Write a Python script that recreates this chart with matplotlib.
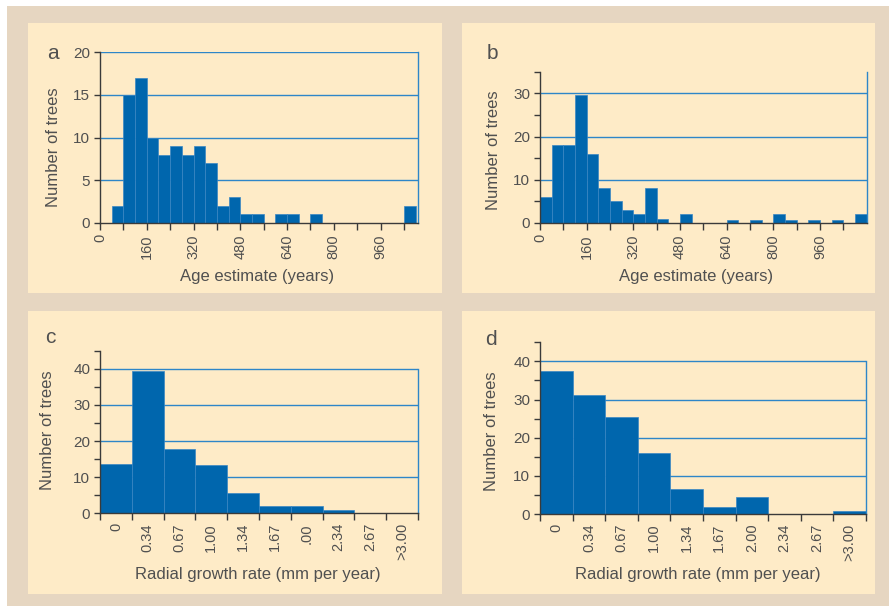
import numpy as np
import matplotlib.pyplot as plt
from matplotlib.patches import Rectangle

plt.rcParams['font.family'] = ['Liberation Sans', 'DejaVu Sans']

# age classes, 40-year bins (left edge, years)
age_bins = np.arange(0, 1120, 40)
age_counts_a = [0, 2, 15, 17, 10, 8, 9, 8, 9, 7, 2, 3, 1, 1, 0, 1, 1, 0, 1,
                0, 0, 0, 0, 0, 0, 0, 2]
age_counts_b = [6, 18, 18, 29.5, 16, 8, 5, 3, 2, 8, 1, 0, 2, 0, 0, 0, 0.8, 0,
                0.8, 0, 2, 0.8, 0, 0.8, 0, 0.8, 0, 2]
age_ticks = [0, 160, 320, 480, 640, 800, 960]

# radial growth classes
growth_labels_c = ['0', '0.34', '0.67', '1.00', '1.34', '1.67', '.00', '2.34', '2.67', '>3.00']
growth_labels_d = ['0', '0.34', '0.67', '1.00', '1.34', '1.67', '2.00', '2.34', '2.67', '>3.00']
growth_counts_c = [13.6, 39.5, 17.8, 13.5, 5.6, 1.9, 1.9, 0.9, 0, 0]
growth_counts_d = [37.6, 31.2, 25.5, 15.9, 6.5, 1.8, 4.5, 0, 0, 0.7]

W, H = 889, 606
BAR = '#0066ad'
EDGE = '#3a86c4'
GRID = '#2e86c8'
AXC = '#3a3a3a'
TXT = '#505050'
TAN = '#e6d6c1'
CREAM = '#feebc7'

fig = plt.figure(figsize=(W / 100, H / 100), dpi=100)
fig.patch.set_facecolor('white')


def box(x0, y0, x1, y1):
    # pixel box (top-left origin) -> figure fraction rect
    return [x0 / W, 1 - y1 / H, (x1 - x0) / W, (y1 - y0) / H]


def ftext(x, y, s, **kw):
    fig.text(x / W, 1 - y / H, s, color=TXT, **kw)


# background frame and cream panels
fig.patches.append(Rectangle((7 / W, 0), 1, 1 - 6 / H, transform=fig.transFigure,
                             facecolor=TAN, edgecolor='none', zorder=-10))
for p in [(28, 23, 442, 293), (462, 23, 875, 293), (28, 311, 442, 594), (462, 311, 875, 594)]:
    r = box(*p)
    fig.patches.append(Rectangle((r[0], r[1]), r[2], r[3], transform=fig.transFigure,
                                 facecolor=CREAM, edgecolor='none', zorder=-9))


def style(ax, ytop, rtop, ystep, yminor=None):
    ax.set_facecolor('none')
    ax.set_ylim(0, ytop)
    ax.spines['top'].set_visible(False)
    ax.spines['right'].set_color(GRID)
    ax.spines['right'].set_linewidth(1.0)
    ax.spines['right'].set_bounds(0, rtop)
    for s in ['left', 'bottom']:
        ax.spines[s].set_color(AXC)
        ax.spines[s].set_linewidth(1.0)
    ax.set_yticks(np.arange(0, ytop + 0.1, ystep))
    if yminor:
        ax.set_yticks(np.arange(0, ytop + 0.1, yminor), minor=True)
    ax.tick_params(axis='y', which='both', direction='out', length=4, width=1,
                   color=AXC, labelcolor=TXT, labelsize=11, pad=3)
    ax.tick_params(axis='x', which='major', direction='out', length=5, width=1,
                   color=AXC, labelcolor=TXT, labelsize=10.5, pad=3, labelrotation=90)
    # horizontal grid lines, behind the bars
    for y in np.arange(ystep, rtop + 0.1, ystep):
        ax.axhline(y, color=GRID, lw=1.0, zorder=1)


def age_panel(rect, counts, xmax, ytop, ystep, yminor):
    ax = fig.add_axes(rect)
    ax.bar(age_bins[:len(counts)], counts, width=40, align='edge', color=BAR,
           edgecolor=EDGE, linewidth=0.5, zorder=2)
    ax.set_xlim(0, xmax)
    ticks = np.arange(0, xmax, 80)
    ax.set_xticks(ticks)
    ax.set_xticklabels([str(t) if t in age_ticks else '' for t in ticks])
    style(ax, ytop, ytop, ystep, yminor)
    return ax


def growth_panel(rect, counts, labels):
    ax = fig.add_axes(rect)
    n = len(counts)
    ax.bar(np.arange(n), counts, width=1, align='edge', color=BAR,
           edgecolor=EDGE, linewidth=0.5, zorder=2)
    ax.set_xlim(0, n)
    ax.set_xticks(np.arange(n + 1))
    ax.set_xticklabels([])
    ax.set_xticks(np.arange(n) + 0.5, minor=True)
    ax.set_xticklabels(labels, minor=True)
    style(ax, 45, 40, 10, 5)
    ax.tick_params(axis='x', which='minor', length=0, labelcolor=TXT,
                   labelsize=10.5, pad=7, labelrotation=90)
    return ax


age_panel(box(100, 52.3, 418, 223), age_counts_a, 1088, 20, 5, None)
age_panel(box(540, 71.7, 866.7, 223), age_counts_b, 1120, 35, 10, 5)
growth_panel(box(100, 350.7, 418, 513.3), growth_counts_c, growth_labels_c)
growth_panel(box(540, 342.3, 866, 514), growth_counts_d, growth_labels_d)

# panel letters
ftext(53, 59, 'a', ha='center', va='baseline', fontsize=15)
ftext(492, 59, 'b', ha='center', va='baseline', fontsize=15)
ftext(50, 343, 'c', ha='center', va='baseline', fontsize=15)
ftext(491, 345, 'd', ha='center', va='baseline', fontsize=15)

# axis labels
for x, y in [(53, 147), (493, 150), (48, 430), (492, 431)]:
    ftext(x, y, 'Number of trees', ha='center', va='center', rotation=90, fontsize=12)
ftext(257, 277, 'Age estimate (years)', ha='center', va='center', fontsize=12)
ftext(696, 277, 'Age estimate (years)', ha='center', va='center', fontsize=12)
ftext(258, 574, 'Radial growth rate (mm per year)', ha='center', va='center', fontsize=12)
ftext(698, 575, 'Radial growth rate (mm per year)', ha='center', va='center', fontsize=12)

fig.savefig('out.png', dpi=100)
